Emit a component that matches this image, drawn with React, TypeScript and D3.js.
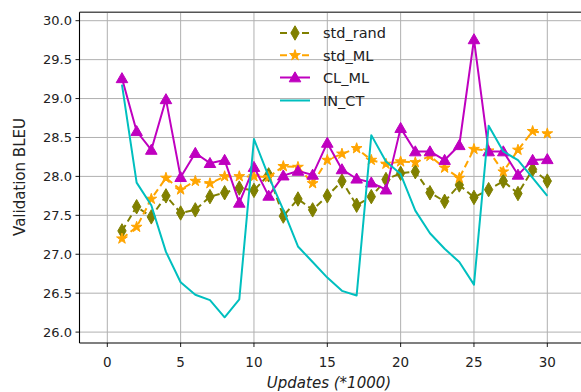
import React from "react";
import * as d3 from "d3";

const updates = d3.range(1, 31);
const stdRand = [27.30, 27.61, 27.48, 27.75, 27.53, 27.57, 27.74, 27.79, 27.85, 27.82, 28.02, 27.49, 27.71, 27.57, 27.75, 27.94, 27.63, 27.74, 27.96, 28.04, 28.06, 27.79, 27.68, 27.89, 27.73, 27.83, 27.94, 27.78, 28.09, 27.94];
const stdML = [27.20, 27.35, 27.71, 27.98, 27.83, 27.94, 27.91, 28.00, 28.00, 28.00, 27.99, 28.13, 28.12, 27.91, 28.21, 28.29, 28.36, 28.21, 28.16, 28.19, 28.18, 28.26, 28.11, 27.98, 28.35, 28.33, 28.06, 28.34, 28.58, 28.55];
const clML = [29.26, 28.58, 28.34, 28.99, 27.99, 28.30, 28.17, 28.21, 27.66, 28.12, 27.75, 28.01, 28.07, 28.02, 28.43, 28.09, 27.97, 27.92, 27.83, 28.62, 28.32, 28.32, 28.21, 28.40, 29.76, 28.32, 28.32, 28.02, 28.21, 28.22];
const inCT = [29.18, 27.92, 27.63, 27.03, 26.64, 26.48, 26.41, 26.19, 26.42, 28.48, 28.00, 27.57, 27.10, 26.90, 26.70, 26.53, 26.47, 28.53, 28.19, 28.03, 27.56, 27.27, 27.07, 26.90, 26.61, 28.65, 28.32, 28.21, 27.98, 27.75];
const xTicks = [0, 5, 10, 15, 20, 25, 30];
const yTicks = [26.0, 26.5, 27.0, 27.5, 28.0, 28.5, 29.0, 29.5, 30.0];

const seriesNames = ["std_rand", "std_ML", "CL_ML", "IN_CT"];
const seriesValues = [stdRand, stdML, clML, inCT];

const styles = [
  { color: "#808000", dash: "7,4", symbol: d3.symbolDiamond, size: 60 },
  { color: "#FFA500", dash: "7,4", symbol: d3.symbolStar, size: 36 },
  { color: "#BF00BF", dash: null, symbol: d3.symbolTriangle, size: 58 },
  { color: "#00BFBF", dash: null, symbol: null, size: 0 },
];

export default function App() {
  const W = 581, H = 392;
  const left = 79.5, right = 590, top = 12.3, bottom = 343;
  const x = d3.scaleLinear().domain([0, 30]).range([107.3, 547.3]);
  const y = d3.scaleLinear().domain([26, 30]).range([332.1, 20.7]);
  const line = d3.line<number>().x((_, i) => x(updates[i])).y((d) => y(d));
  const font = "DejaVu Sans, sans-serif";

  return (
    <svg width={W} height={H} style={{ position: "absolute", left: 0, top: 0, background: "#fff" }}>
      <rect x={0} y={0} width={W} height={H} fill="#fff" />
      <defs>
        <clipPath id="plot">
          <rect x={left} y={top} width={right - left} height={bottom - top} />
        </clipPath>
      </defs>
      {xTicks.map((t) => (
        <line key={"gx" + t} x1={x(t)} x2={x(t)} y1={top} y2={bottom} stroke="#b0b0b0" strokeWidth={1} />
      ))}
      {yTicks.map((t) => (
        <line key={"gy" + t} x1={left} x2={right} y1={y(t)} y2={y(t)} stroke="#b0b0b0" strokeWidth={1} />
      ))}
      <g clipPath="url(#plot)">
        {seriesValues.map((vals, si) => {
          const st = styles[si];
          return (
            <g key={seriesNames[si]}>
              <path d={line(vals) || ""} fill="none" stroke={st.color} strokeWidth={2}
                strokeDasharray={st.dash || undefined} strokeLinejoin="round" />
              {st.symbol &&
                vals.map((v, i) => (
                  <path key={i} d={d3.symbol().type(st.symbol!).size(st.size)() || ""}
                    transform={`translate(${x(updates[i])},${y(v) + (st.symbol === d3.symbolTriangle ? 1 : 0)})`}
                    fill={st.color} stroke={st.color} strokeWidth={1} />
                ))}
            </g>
          );
        })}
      </g>
      <line x1={left} x2={right} y1={top} y2={top} stroke="#555" strokeWidth={1.6} />
      <line x1={left} x2={left} y1={top} y2={bottom} stroke="#000" strokeWidth={1.1} />
      <line x1={left} x2={right} y1={bottom} y2={bottom} stroke="#000" strokeWidth={1.1} />
      {yTicks.map((t) => (
        <g key={"yt" + t}>
          <line x1={left - 4} x2={left} y1={y(t)} y2={y(t)} stroke="#000" strokeWidth={0.9} />
          <text x={left - 7.5} y={y(t)} dy="0.36em" textAnchor="end" fontFamily={font} fontSize={13} fill="#222">
            {t.toFixed(1)}
          </text>
        </g>
      ))}
      {xTicks.map((t) => (
        <g key={"xt" + t}>
          <line x1={x(t)} x2={x(t)} y1={bottom} y2={bottom + 4} stroke="#000" strokeWidth={0.9} />
          <text x={x(t)} y={362} dy="0.36em" textAnchor="middle" fontFamily={font} fontSize={13.5} fill="#222">
            {t}
          </text>
        </g>
      ))}
      <text x={329} y={382.5} dy="0.36em" textAnchor="middle" fontFamily={font} fontSize={15} fontStyle="italic" fill="#222">
        Updates (*1000)
      </text>
      <text transform={`translate(20,177) rotate(-90)`} dy="0.36em" textAnchor="middle" fontFamily={font} fontSize={15} fill="#222">
        Validation BLEU
      </text>
      {seriesNames.map((name, si) => {
        const st = styles[si];
        const ly = [33, 55.3, 77.5, 100.5][si];
        return (
          <g key={"lg" + name}>
            <line x1={280} x2={310} y1={ly} y2={ly} stroke={st.color} strokeWidth={2} strokeDasharray={st.dash || undefined} />
            {st.symbol && (
              <path d={d3.symbol().type(st.symbol).size(st.size)() || ""}
                transform={`translate(295,${ly + (st.symbol === d3.symbolTriangle ? 1 : 0)})`}
                fill={st.color} stroke={st.color} strokeWidth={1} />
            )}
            <text x={323} y={ly} dy="0.36em" fontFamily={font} fontSize={14.5} fill="#222">
              {name}
            </text>
          </g>
        );
      })}
    </svg>
  );
}
